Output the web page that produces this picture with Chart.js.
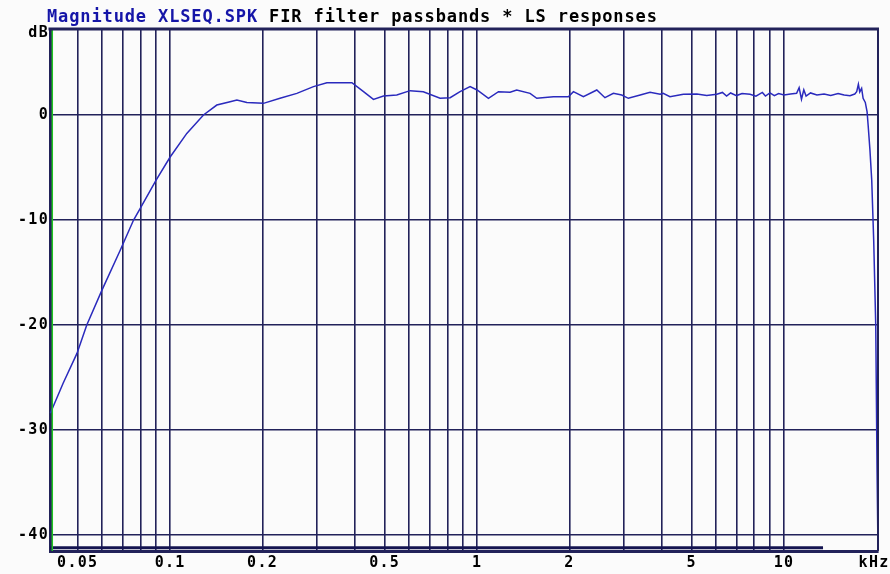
<!DOCTYPE html>
<html>
<head>
<meta charset="utf-8">
<script src="https://cdn.jsdelivr.net/npm/chart.js@4.4.1/dist/chart.umd.min.js"></script>
<style>
  html, body { margin: 0; padding: 0; background: #fbfbfb; }
  #wrap { position: relative; width: 890px; height: 574px; }
  #title {
    position: absolute; left: 47px; top: 8px; z-index: 2;
    font-family: "DejaVu Sans Mono", monospace; font-weight: bold;
    font-size: 17px; line-height: 17px; letter-spacing: 0.87px;
    white-space: pre; color: #000;
  }
  #title .file { color: #1515a8; }
</style>
</head>
<body>
<div id="wrap">
  <div id="title"><span class="file">Magnitude XLSEQ.SPK</span> FIR filter passbands * LS responses</div>
  <canvas id="c" width="890" height="574"></canvas>
</div>
<script>
// ---- data (frequency in kHz, magnitude in dB) ----
const freqKHz = [
  0.0407, 0.0448, 0.0497, 0.0535, 0.0599, 0.0687, 0.0760, 0.0799, 0.0900, 0.1000,
  0.1133, 0.1284, 0.1419, 0.1568, 0.165, 0.1778, 0.2014, 0.228, 0.2587, 0.293,
  0.324, 0.391, 0.4266, 0.4595, 0.4954, 0.5475, 0.605, 0.668, 0.7575, 0.817,
  0.880, 0.9488, 1.0, 1.089, 1.174, 1.281, 1.346, 1.488, 1.565, 1.773,
  1.984, 2.06, 2.22, 2.455, 2.61, 2.78, 2.96, 3.11, 3.40, 3.66,
  3.95, 4.04, 4.25, 4.70, 5.2, 5.6, 6.04, 6.3, 6.5, 6.7,
  7.0, 7.3, 7.75, 8.1, 8.5, 8.7, 9.0, 9.3, 9.6, 10.0,
  10.5, 10.99, 11.2, 11.4, 11.6, 11.8, 12.2, 12.8, 13.5, 14.2,
  15.0, 15.7, 16.4, 17.0, 17.25, 17.47, 17.65, 17.9, 18.1, 18.4,
  18.65, 18.8, 19.05, 19.31, 19.6, 19.9, 20.1, 20.24
];
const magDB = [
  -28.4, -25.55, -22.7, -20.0, -16.7, -12.9, -10.0, -8.9, -6.2, -4.0,
  -1.75, 0.0, 0.95, 1.27, 1.43, 1.2, 1.11, 1.59, 2.06, 2.7,
  3.08, 3.08, 2.22, 1.49, 1.81, 1.9, 2.32, 2.22, 1.59, 1.65,
  2.22, 2.7, 2.38, 1.59, 2.22, 2.16, 2.38, 2.06, 1.59, 1.74,
  1.74, 2.22, 1.74, 2.38, 1.65, 2.06, 1.9, 1.59, 1.9, 2.16,
  1.97, 2.06, 1.74, 1.97, 2.0, 1.85, 1.97, 2.15, 1.8, 2.1,
  1.85, 2.05, 1.97, 1.8, 2.15, 1.8, 2.1, 1.85, 2.05, 1.9,
  2.0, 2.06, 2.6, 1.5, 2.4, 1.8, 2.1, 1.9, 2.0, 1.85,
  2.05, 1.9, 1.84, 2.0, 2.22, 2.92, 2.2, 2.54, 1.59, 1.2,
  0.3, -1.0, -3.3, -6.2, -12.0, -20.0, -34.0, -41.5
];
const passbandFreq = [0.0406, 13.4];
const passbandDB = [-41.2, -41.2];
const edgeFreq = [0.0413, 0.0413];
const edgeDB = [8.19, -41.52];

const xGridValues = [0.05,0.06,0.07,0.08,0.09,0.1,0.2,0.3,0.4,0.5,0.6,0.7,0.8,0.9,1,2,3,4,5,6,7,8,9,10];
const xLabelValues = [0.05, 0.1, 0.2, 0.5, 1, 2, 5, 10];
const xLabelText = ['0.05', '0.1', '0.2', '0.5', '1', '2', '5', '10'];
const xUnitValue = 19.65;
const xUnitText = 'kHz';
const yTickValues = [-40, -30, -20, -10, 0];
const yUnitValue = 7.8;
const yUnitText = 'dB';

const X_MIN = 0.0406, X_MAX = 20.24, Y_MIN = -41.52, Y_MAX = 8.19;

const NAVY = '#22225a';
const pts = (xs, ys) => xs.map((x, i) => ({ x: x, y: ys[i] }));

const spacing = {
  id: 'spacing',
  beforeLayout(c) { c.ctx.letterSpacing = '1.3px'; },
  beforeDraw(c) { c.ctx.letterSpacing = '1.3px'; }
};
const frame = {
  id: 'frame',
  afterDraw(c) {
    const a = c.chartArea, ctx = c.ctx;
    ctx.save();
    ctx.strokeStyle = NAVY;
    ctx.lineWidth = 3;
    ctx.beginPath(); ctx.moveTo(a.left - 1.5, a.top); ctx.lineTo(a.right + 1, a.top); ctx.stroke();
    ctx.lineWidth = 2;
    ctx.beginPath(); ctx.moveTo(a.right, a.top); ctx.lineTo(a.right, a.bottom); ctx.stroke();
    ctx.restore();
  }
};

const tickFont = { family: 'DejaVu Sans Mono', weight: 'bold', size: 15 };

new Chart(document.getElementById('c'), {
  type: 'line',
  data: {
    datasets: [
      { label: 'edge', data: pts(edgeFreq, edgeDB), borderColor: '#1fc21f', borderWidth: 1.5, pointRadius: 0, clip: false },
      { label: 'passbands', data: pts(passbandFreq, passbandDB), borderColor: '#141450', borderWidth: 3, pointRadius: 0 },
      { label: 'LS response', data: pts(freqKHz, magDB), borderColor: '#2a2abd', borderWidth: 1.5, pointRadius: 0, tension: 0, clip: false }
    ]
  },
  options: {
    responsive: false,
    animation: false,
    devicePixelRatio: 1,
    layout: { padding: { top: 29, right: 12, left: 0, bottom: 0 } },
    plugins: { legend: { display: false }, tooltip: { enabled: false }, title: { display: false } },
    scales: {
      x: {
        type: 'logarithmic',
        min: X_MIN, max: X_MAX,
        afterBuildTicks(s) { s.ticks = xGridValues.concat([xUnitValue]).map(v => ({ value: v })); },
        afterFit(s) { s.height = 23; s.paddingLeft = 0; s.paddingRight = 0; },
        grid: {
          color: (ctx) => (ctx.tick && ctx.tick.value === xUnitValue) ? 'rgba(0,0,0,0)' : NAVY,
          lineWidth: 1.6, drawTicks: false
        },
        border: { display: true, color: NAVY, width: 3 },
        ticks: {
          autoSkip: false, maxRotation: 0, minRotation: 0, padding: 3,
          color: '#000', font: tickFont,
          callback(v) {
            if (v === xUnitValue) return xUnitText;
            const i = xLabelValues.indexOf(v);
            return i >= 0 ? xLabelText[i] : '';
          }
        }
      },
      y: {
        type: 'linear',
        min: Y_MIN, max: Y_MAX,
        afterBuildTicks(s) { s.ticks = yTickValues.concat([yUnitValue]).map(v => ({ value: v })); },
        afterFit(s) { s.width = 50; s.paddingTop = 0; s.paddingBottom = 0; },
        grid: {
          color: (ctx) => (ctx.tick && ctx.tick.value === yUnitValue) ? 'rgba(0,0,0,0)' : NAVY,
          lineWidth: 1.6, drawTicks: false
        },
        border: { display: true, color: NAVY, width: 3 },
        ticks: {
          autoSkip: false, padding: 1, color: '#000', font: tickFont,
          callback(v) { return v === yUnitValue ? yUnitText : String(v); }
        }
      }
    }
  },
  plugins: [spacing, frame]
});
</script>
</body>
</html>
